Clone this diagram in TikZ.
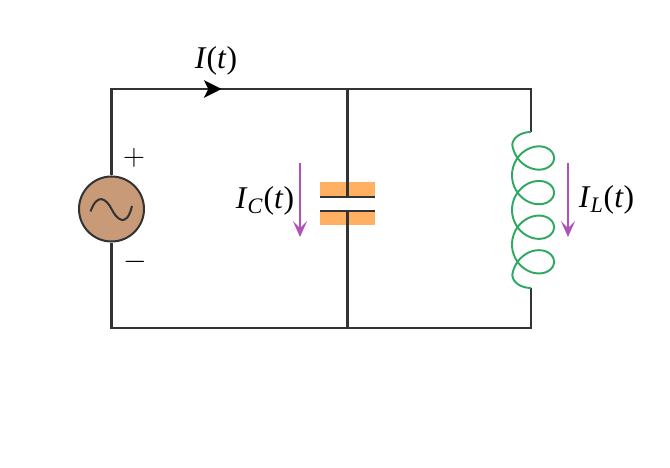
\documentclass[tikz,border=0pt]{standalone}
\usepackage{fontspec}
\setmainfont{Liberation Serif}
\usetikzlibrary{arrows.meta}
\definecolor{wirecol}{HTML}{333333}
\definecolor{srccol}{HTML}{C99A78}
\definecolor{capcol}{HTML}{FFB062}
\definecolor{coilcol}{HTML}{2FA862}
\definecolor{curcol}{HTML}{B052B8}
\newcommand{\cur}[1]{\textit{I}\textsubscript{\textit{#1}}(\textit{t})}
\tikzset{
	wire/.style={draw=wirecol, line width=1.15pt},
	coil/.style={draw=coilcol, line width=1.1pt},
	current/.style={draw=curcol, line width=1.15pt, -{Stealth[length=9pt, width=8pt, inset=4pt]}},
	plate/.style={fill=capcol, inner sep=0pt, minimum width=1.1cm},
	lab/.style={font=\fontsize{18}{20}\selectfont, inner sep=0pt}
}

\begin{document}
\begin{tikzpicture}
	\useasboundingbox (0,0) rectangle (13.4,9.36);
	\coordinate (tl) at (2.23,7.58);
	\coordinate (tm) at (6.95,7.58);
	\coordinate (tr) at (10.62,7.58);
	\coordinate (bl) at (2.23,2.8);
	\coordinate (bm) at (6.95,2.8);
	\coordinate (br) at (10.62,2.8);
	\coordinate (arrowtip) at (4.43,7.58);
	\coordinate (coiltop) at (10.62,6.72);
	\coordinate (coilbot) at (10.62,3.6);
	\node[plate, minimum height=.29cm] (capa) at (6.95,5.57) {};
	\node[plate, minimum height=.27cm] (capb) at (6.95,4.99) {};
	\node[circle, wire, fill=srccol, minimum size=1.3cm, inner sep=0pt] (src) at (2.23,5.18) {};
	\draw[wire] (src.north) -- (tl) -- (tr) -- (coiltop);
	\draw[wire] (src.south) -- (bl) -- (br) -- (coilbot);
	\draw[wire] (tm) -- (capa.south);
	\draw[wire] (bm) -- (capb.north);
	\draw[wire] (capa.south west) -- (capa.south east);
	\draw[wire] (capb.north west) -- (capb.north east);
	\draw[wire, -{Stealth[length=10pt, width=10pt, inset=2.5pt, color=black]}] (tl) -- (arrowtip);
	\draw[wire] ([shift={(-.42,-.05)}]src.center) .. controls (-.28+2.23,5.18+.34) and (-.1+2.23,5.18+.2) .. (src.center)
		.. controls (.1+2.23,5.18-.2) and (.3+2.23,5.18-.4) .. ([shift={(.41,.06)}]src.center);
	% coil
	\draw[coil] (coiltop) .. controls (10.41,6.72) and (10.246,6.6) .. (10.246,6.458)
		-- plot[domain=-170:1250, samples=240, smooth, variable=\t] ({10.66+.42*cos(\t)},{6.2-.00192*\t+.39*sin(\t)})
		.. controls (10.246,3.72) and (10.41,3.6) .. (coilbot);
	\coordinate (ica) at (6,6.1);
	\coordinate (icb) at (6,4.62);
	\coordinate (ila) at (11.36,6.1);
	\coordinate (ilb) at (11.36,4.62);
	\draw[current] (ica) -- (icb);
	\draw[current] (ila) -- (ilb);
	\node[lab] (it) at (4.32,8.14) {\textit{I}(\textit{t})};
	\node[lab] (ic) at (5.3,5.34) {\cur{C}};
	\node[lab] (il) at (12.13,5.36) {\cur{L}};
	\node[inner sep=0pt, font=\LARGE] (plus) at (2.68,6.2) {$+$};
	\node[inner sep=0pt, font=\LARGE] (minus) at (2.7,4.12) {$-$};
\end{tikzpicture}
\end{document}
